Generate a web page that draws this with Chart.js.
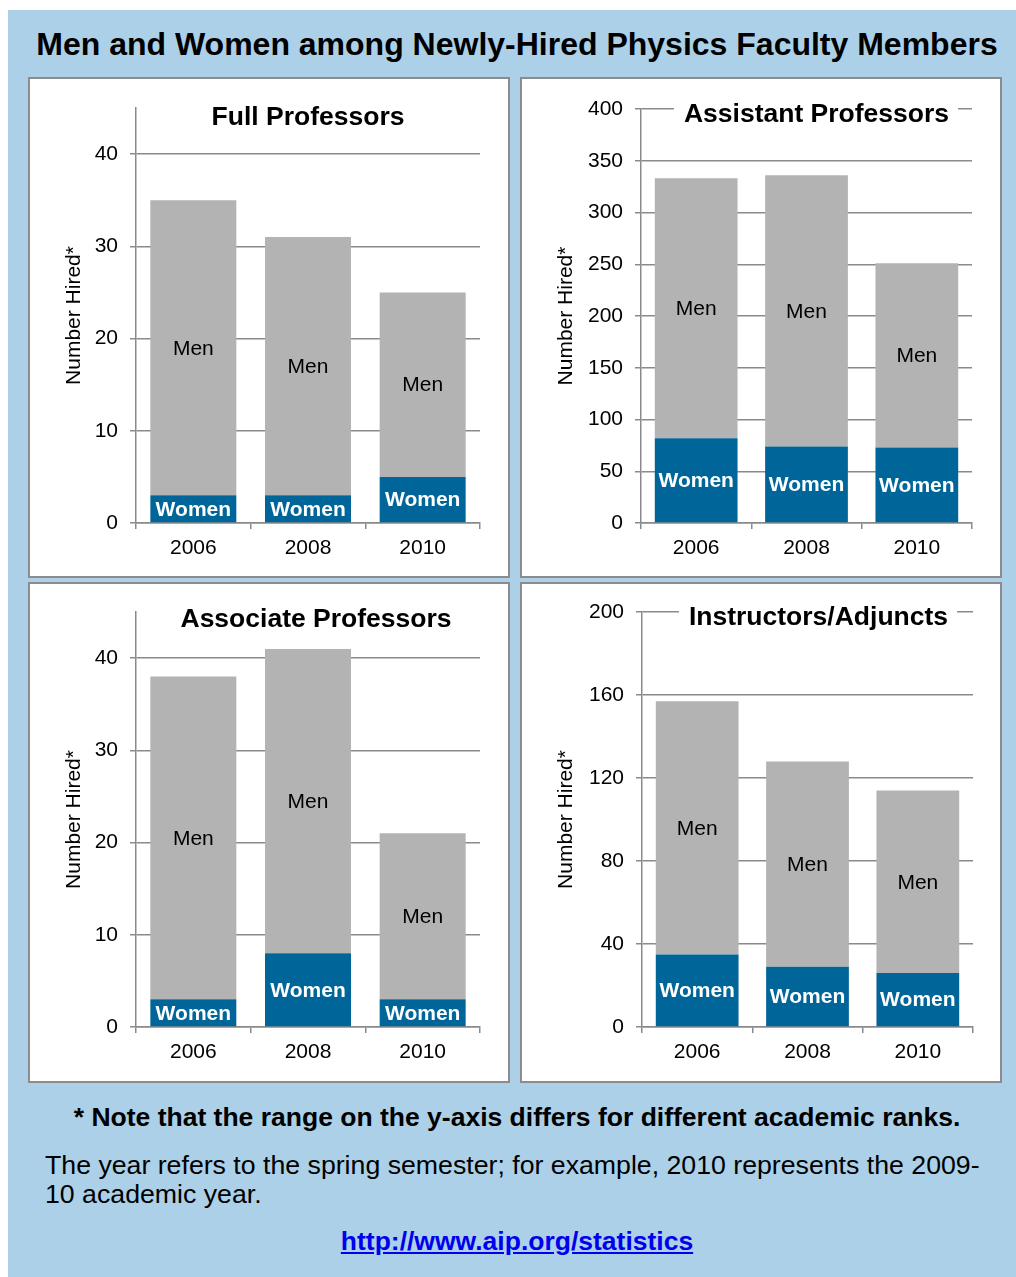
<!DOCTYPE html>
<html><head><meta charset="utf-8">
<script src="https://cdn.jsdelivr.net/npm/chart.js@4.4.0/dist/chart.umd.min.js"></script>
<style>
html,body{margin:0;padding:0;background:#fff;}
body{width:1016px;height:1277px;position:relative;overflow:hidden;font-family:"Liberation Sans",Arial,sans-serif;color:#000;}
#bg{position:absolute;left:8px;top:10px;width:1008px;height:1267px;background:#abd0e8;}
#title{position:absolute;left:13px;width:1008px;top:24px;text-align:center;font-weight:bold;font-size:32px;line-height:40px;}
.panel{position:absolute;width:478px;height:497px;border:2px solid #8c8c8c;background:#fff;}
.panel canvas{position:absolute;left:0;top:0;}
#note{position:absolute;left:13px;width:1008px;top:1101px;text-align:center;font-weight:bold;font-size:26.5px;line-height:32px;}
#para{position:absolute;left:45px;width:965px;top:1151px;font-size:26.7px;line-height:29px;}
#link{position:absolute;left:13px;width:1008px;top:1225px;text-align:center;font-weight:bold;font-size:26.5px;line-height:32px;}
#link a{color:#0000ee;text-decoration:underline;}
</style></head>
<body>
<div id="bg"></div>
<div id="title">Men and Women among Newly-Hired Physics Faculty Members</div>
<div class="panel" style="left:28px;top:77px"><canvas id="c0" width="478" height="497"></canvas></div>
<div class="panel" style="left:520px;top:77px"><canvas id="c1" width="478" height="497"></canvas></div>
<div class="panel" style="left:28px;top:582px"><canvas id="c2" width="478" height="497"></canvas></div>
<div class="panel" style="left:520px;top:582px"><canvas id="c3" width="478" height="497"></canvas></div>
<div id="note">* Note that the range on the y-axis differs for different academic ranks.</div>
<div id="para">The year refers to the spring semester; for example, 2010 represents the 2009-<br>10 academic year.</div>
<div id="link"><a href="http://www.aip.org/statistics">http://www.aip.org/statistics</a></div>
<script>
// ---- data ----
const years = ['2006', '2008', '2010'];
const titles = ['Full Professors', 'Assistant Professors', 'Associate Professors', 'Instructors/Adjuncts'];
const fullWomen = [3, 3, 5];
const fullMen = [32, 28, 20];
const asstWomen = [82, 74, 73];
const asstMen = [251, 262, 178];
const assocWomen = [3, 8, 3];
const assocMen = [35, 33, 18];
const instrWomen = [35, 29, 26];
const instrMen = [122, 99, 88];
const yMaxes = [45, 400, 45, 200];
const ySteps = [10, 50, 10, 40];
const yAxisTitle = 'Number Hired*';
const womenLabel = 'Women';
const menLabel = 'Men';

// ---- styles / layout ----
const GRID = '#8a8a8a';
const GREY = '#b3b3b3';
const BLUE = '#006699';
const FONT = '"Liberation Sans", Arial, sans-serif';
const layouts = [
  {pad:{left:30,right:28,top:29,bottom:0}, yW:76, xH:53, tdx:0, ty:38},
  {pad:{left:30,right:28,top:30,bottom:0}, yW:89, xH:53, tdx:10, ty:35},
  {pad:{left:30,right:28,top:28,bottom:0}, yW:76, xH:54, tdx:8, ty:35},
  {pad:{left:30,right:27,top:28,bottom:0}, yW:90, xH:54, tdx:11, ty:33}
];
const womenSets = [fullWomen, asstWomen, assocWomen, instrWomen];
const menSets = [fullMen, asstMen, assocMen, instrMen];

const segLabels = {
  id: 'segLabels',
  afterDatasetsDraw(chart) {
    const ctx = chart.ctx;
    chart.data.datasets.forEach((ds, i) => {
      const meta = chart.getDatasetMeta(i);
      meta.data.forEach(bar => {
        const top = Math.min(bar.y, bar.base), bot = Math.max(bar.y, bar.base);
        ctx.save();
        ctx.font = ds.segFont;
        ctx.fillStyle = ds.segColor;
        ctx.textAlign = 'center';
        ctx.textBaseline = 'middle';
        ctx.fillText(ds.label, bar.x, (top + bot) / 2 + 1);
        ctx.restore();
      });
    });
  }
};

const panelTitle = {
  id: 'panelTitle',
  afterDraw(chart, args, opts) {
    const ctx = chart.ctx;
    const ca = chart.chartArea;
    const cx = (ca.left + ca.right) / 2 + opts.dx;
    ctx.save();
    ctx.font = 'bold 26.5px ' + FONT;
    const w = ctx.measureText(opts.text).width;
    ctx.fillStyle = '#fff';
    ctx.fillRect(cx - w / 2 - 10, opts.y - 15, w + 19, 30);
    ctx.fillStyle = '#000';
    ctx.textAlign = 'center';
    ctx.textBaseline = 'middle';
    ctx.fillText(opts.text, cx, opts.y + 1);
    ctx.restore();
  }
};

for (let k = 0; k < 4; k++) {
  const L = layouts[k];
  const step = ySteps[k];
  new Chart(document.getElementById('c' + k), {
    type: 'bar',
    data: {
      labels: years,
      datasets: [
        {label: womenLabel, data: womenSets[k], backgroundColor: BLUE, borderWidth: 0,
         segFont: 'bold 21px ' + FONT, segColor: '#fff'},
        {label: menLabel, data: menSets[k], backgroundColor: GREY, borderWidth: 0,
         segFont: '21px ' + FONT, segColor: '#000'}
      ]
    },
    plugins: [segLabels, panelTitle],
    options: {
      responsive: false,
      animation: false,
      devicePixelRatio: 1,
      barPercentage: 0.75,
      categoryPercentage: 1.0,
      layout: {padding: L.pad},
      plugins: {
        legend: {display: false},
        tooltip: {enabled: false},
        title: {display: false},
        panelTitle: {text: titles[k], dx: L.tdx, y: L.ty}
      },
      scales: {
        x: {
          stacked: true,
          offset: true,
          grid: {display: true, drawOnChartArea: false, drawTicks: true, tickLength: 6, color: GRID, lineWidth: 1.5, offset: true},
          border: {display: true, color: GRID, width: 1.5},
          ticks: {color: '#000', font: {family: FONT, size: 21}, padding: 7},
          afterFit(s) { s.height = L.xH; }
        },
        y: {
          stacked: true,
          min: 0,
          max: yMaxes[k],
          grid: {color: GRID, lineWidth: 1.5, tickLength: 6, drawTicks: true},
          border: {display: true, color: GRID, width: 1.5},
          ticks: {stepSize: step, color: '#000', font: {family: FONT, size: 21}, padding: 12},
          afterBuildTicks(s) { s.ticks = s.ticks.filter(t => t.value % step === 0); },
          afterFit(s) { s.width = L.yW; },
          title: {display: true, text: yAxisTitle, color: '#000', font: {family: FONT, size: 21}, padding: {top: 2, bottom: 0}}
        }
      }
    }
  });
}
</script>
</body></html>
